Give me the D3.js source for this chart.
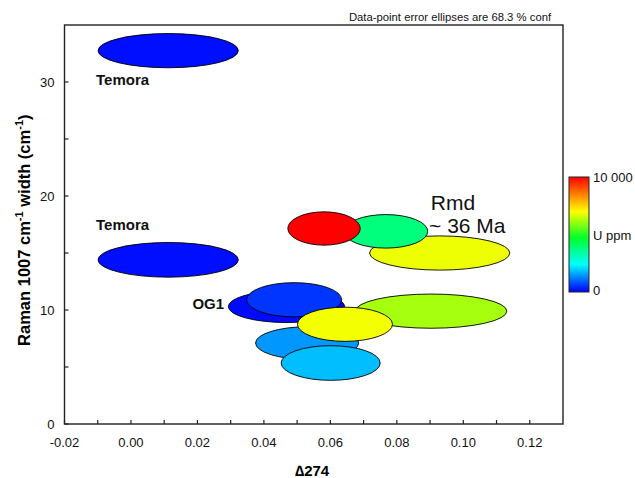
<!DOCTYPE html>
<html>
<head>
<meta charset="utf-8">
<script src="https://cdn.jsdelivr.net/npm/d3@7"></script>
<style>
  html, body { margin: 0; padding: 0; background: #fff; }
  svg { display: block; font-family: "Liberation Sans", Arial, sans-serif; }
</style>
</head>
<body>
<svg id="chart" width="635" height="478"></svg>
<script>
// Zircon spots: Raman 1007 cm-1 band width vs Δ274, with 1σ error ellipses, coloured by U content.
// Listed in drawing order (later spots sit on top).
const spotNames  = ["Temora", "Temora", "Rmd-a", "Rmd-b", "Rmd-c", "OG1-a", "OG1-b", "s8", "s9", "s10", "s11"];
const delta274   = [0.0112, 0.0112, 0.0929, 0.0767, 0.0581, 0.0468, 0.0491, 0.0530, 0.0903, 0.0601, 0.0644];
const deltaErr   = [0.0211, 0.0211, 0.0211, 0.0126, 0.0109, 0.0175, 0.0143, 0.0155, 0.0228, 0.0149, 0.0143];
const bandWidth  = [32.75, 14.40, 15.00, 16.90, 17.15, 10.30, 10.90, 7.10, 9.90, 5.35, 8.75];
const widthErr   = [1.50, 1.52, 1.50, 1.47, 1.46, 1.40, 1.50, 1.43, 1.50, 1.52, 1.50];
const uPpm       = [150, 150, 6850, 3800, 10000, 100, 550, 1450, 6200, 1800, 6900];

// Axis ticks and labels
const xMajorTicks = [-0.02, 0.00, 0.02, 0.04, 0.06, 0.08, 0.10, 0.12];
const xMinorTicks = [-0.01, 0.01, 0.03, 0.05, 0.07, 0.09, 0.11];
const yMajorTicks = [0, 10, 20, 30];
const yMinorTicks = [5, 15, 25];

// Sample annotations
const annotations = [
  { text: "Temora",  x: -0.0105, y: 29.7,  weight: "bold",   size: 15 },
  { text: "Temora",  x: -0.0105, y: 17.0,  weight: "bold",   size: 15 },
  { text: "OG1",     x: 0.0185,  y: 10.1,  weight: "bold",   size: 15 },
  { text: "Rmd",     x: 0.0902,  y: 18.8,  weight: "normal", size: 21 },
  { text: "~ 36 Ma", x: 0.0897,  y: 16.75, weight: "normal", size: 21 }
];

// U colour bar
const uDomain = [0, 10000];
const uStops  = [0, 500, 2400, 4700, 7000, 8300, 10000];
const uColors = ["#0000ff", "#0030ff", "#00ffff", "#00ff28", "#ffff00", "#ff9000", "#ff0000"];
const uLabels = ["10 000", "U ppm", "0"];

const svg = d3.select("#chart");
const plotL = 64.5, plotR = 563, plotT = 25, plotB = 424;

const x = d3.scaleLinear().domain([-0.02, 0.13]).range([plotL, plotR]);
const y = d3.scaleLinear().domain([0, 35]).range([plotB, plotT]);
const color = d3.scaleLinear().domain(uStops).range(uColors).interpolate(d3.interpolateRgb).clamp(true);

// Error ellipses
const spots = delta274.map((d, i) => ({
  name: spotNames[i], dx: d, sx: deltaErr[i], w: bandWidth[i], sw: widthErr[i], u: uPpm[i]
}));
svg.append("g").selectAll("ellipse").data(spots).join("ellipse")
  .attr("cx", d => x(d.dx))
  .attr("cy", d => y(d.w))
  .attr("rx", d => x(d.dx + d.sx) - x(d.dx))
  .attr("ry", d => y(d.w - d.sw) - y(d.w))
  .attr("fill", d => color(d.u))
  .attr("stroke", "#000")
  .attr("stroke-width", 0.9);

// Frame
svg.append("rect")
  .attr("x", plotL).attr("y", plotT)
  .attr("width", plotR - plotL).attr("height", plotB - plotT)
  .attr("fill", "none").attr("stroke", "#222").attr("stroke-width", 1.4);

// Inward ticks
const tickLen = 4;
const ticks = svg.append("g").attr("stroke", "#222").attr("stroke-width", 1.2);
ticks.selectAll("line.xt").data(xMajorTicks.concat(xMinorTicks)).join("line")
  .attr("class", "xt")
  .attr("x1", d => x(d)).attr("x2", d => x(d))
  .attr("y1", plotB).attr("y2", plotB - tickLen);
ticks.selectAll("line.yt").data(yMajorTicks.concat(yMinorTicks)).join("line")
  .attr("class", "yt")
  .attr("y1", d => y(d)).attr("y2", d => y(d))
  .attr("x1", plotL).attr("x2", plotL + tickLen);

// Tick labels (plain hyphen for negatives)
const fmtX = d => d3.format(".2f")(d).replace("\u2212", "-");
svg.append("g").selectAll("text").data(xMajorTicks).join("text")
  .attr("x", d => x(d)).attr("y", plotB + 23)
  .attr("text-anchor", "middle").attr("font-size", 13).attr("fill", "#111")
  .text(fmtX);
svg.append("g").selectAll("text").data(yMajorTicks).join("text")
  .attr("x", plotL - 10).attr("y", d => y(d) + 5)
  .attr("text-anchor", "end").attr("font-size", 13).attr("fill", "#111")
  .text(d => d);

// Axis titles
svg.append("text")
  .attr("x", x(0.0545)).attr("y", 476)
  .attr("text-anchor", "middle").attr("font-size", 15).attr("font-weight", "bold")
  .text("\u2206274");

const yTitle = svg.append("text")
  .attr("transform", `translate(30,${y(17)}) rotate(-90)`)
  .attr("text-anchor", "middle").attr("font-size", 16.5).attr("font-weight", "bold");
yTitle.append("tspan").text("Raman 1007 cm");
yTitle.append("tspan").attr("dy", -7).attr("font-size", 11).text("-1");
yTitle.append("tspan").attr("dy", 7).text(" width (cm");
yTitle.append("tspan").attr("dy", -7).attr("font-size", 11).text("-1");
yTitle.append("tspan").attr("dy", 7).text(")");

// Confidence note
svg.append("text")
  .attr("x", 450).attr("y", 21)
  .attr("text-anchor", "middle").attr("font-size", 11.3).attr("fill", "#111")
  .text("Data-point error ellipses are 68.3 % conf");

// Annotations
svg.append("g").selectAll("text").data(annotations).join("text")
  .attr("x", d => x(d.x)).attr("y", d => y(d.y))
  .attr("font-size", d => d.size).attr("font-weight", d => d.weight).attr("fill", "#111")
  .text(d => d.text);

// Colour bar
const barX = 569, barW = 20, barTop = 177, barBottom = 292;
const defs = svg.append("defs");
const grad = defs.append("linearGradient").attr("id", "ugrad")
  .attr("x1", 0).attr("y1", 1).attr("x2", 0).attr("y2", 0);
grad.selectAll("stop").data(uStops).join("stop")
  .attr("offset", d => d / uDomain[1])
  .attr("stop-color", (d, i) => uColors[i]);
svg.append("rect")
  .attr("x", barX).attr("y", barTop).attr("width", barW).attr("height", barBottom - barTop)
  .attr("fill", "url(#ugrad)").attr("stroke", "#222").attr("stroke-width", 1);
const barLabelY = [barTop + 5, (barTop + barBottom) / 2 + 5, barBottom + 3];
svg.append("g").selectAll("text").data(uLabels).join("text")
  .attr("x", barX + barW + 4).attr("y", (d, i) => barLabelY[i])
  .attr("font-size", 13).attr("fill", "#111")
  .text(d => d);
</script>
</body>
</html>
